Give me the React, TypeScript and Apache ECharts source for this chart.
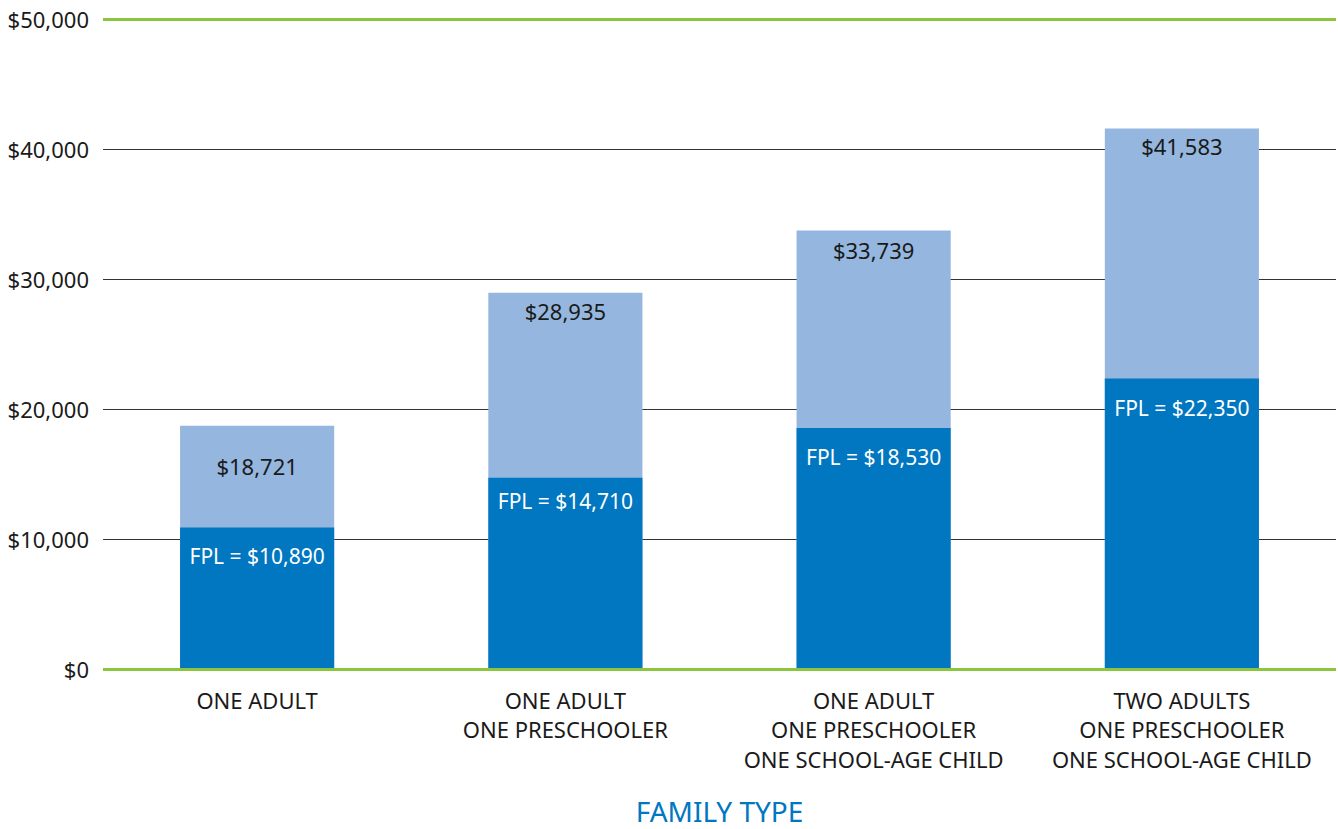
import React, { useEffect, useRef } from "react";
import * as echarts from "echarts";

const categories = [
  "ONE ADULT",
  "ONE ADULT\nONE PRESCHOOLER",
  "ONE ADULT\nONE PRESCHOOLER\nONE SCHOOL-AGE CHILD",
  "TWO ADULTS\nONE PRESCHOOLER\nONE SCHOOL-AGE CHILD",
];
const totalValues = [18721, 28935, 33739, 41583];
const fplValues = [10890, 14710, 18530, 22350];
const totalLabelDist = [29, 7, 9, 7];
const fplLabelDist = [18, 13, 18, 19];
const yTicks = [0, 10000, 20000, 30000, 40000, 50000];

const FONT = "'Noto Sans', 'Open Sans', sans-serif";
const fmt = (v: number) => "$" + v.toLocaleString("en-US");

export default function App() {
  const ref = useRef<HTMLDivElement>(null);
  useEffect(() => {
    if (!ref.current) return;
    const chart = echarts.init(ref.current, null, { renderer: "svg" });
    chart.setOption({
      animation: false,
      textStyle: { fontFamily: FONT },
      grid: {
        left: 103,
        right: 2,
        top: 19,
        bottom: 160,
        containLabel: false,
        outerBoundsMode: "none",
      },
      xAxis: {
        type: "category",
        data: categories,
        axisLine: { show: false },
        axisTick: { show: false },
        axisLabel: {
          interval: 0,
          hideOverlap: false,
          color: "#1a1a1a",
          fontSize: 22,
          lineHeight: 29.5,
          margin: 16,
          fontFamily: FONT,
        },
        name: "FAMILY TYPE",
        nameLocation: "middle",
        nameGap: 128,
        nameTextStyle: { color: "#0077c0", fontSize: 28, lineHeight: 28, fontFamily: FONT },
      },
      yAxis: {
        type: "value",
        min: 0,
        max: 50000,
        interval: 10000,
        axisLine: { show: false },
        axisTick: { show: false },
        axisLabel: {
          color: "#1a1a1a",
          fontSize: 22,
          margin: 14,
          fontFamily: FONT,
          formatter: (v: number) => fmt(v),
        },
        splitLine: { lineStyle: { color: "#333", width: 1 } },
      },
      series: [
        {
          type: "bar",
          data: totalValues.map((v, i) => ({
            value: v,
            label: { distance: totalLabelDist[i] },
          })),
          barWidth: "50%",
          barGap: "-100%",
          itemStyle: { color: "#95b7df" },
          label: {
            show: true,
            position: "insideTop",
            color: "#1a1a1a",
            fontSize: 22,
            fontFamily: FONT,
            formatter: (p: any) => fmt(p.value),
          },
          markLine: {
            silent: true,
            symbol: "none",
            label: { show: false },
            lineStyle: { color: "#8cc63f", width: 3, type: "solid" },
            data: [{ yAxis: yTicks[0] }, { yAxis: yTicks[yTicks.length - 1] }],
          },
          z: 2,
        },
        {
          type: "bar",
          data: fplValues.map((v, i) => ({
            value: v,
            label: { distance: fplLabelDist[i] },
          })),
          barWidth: "50%",
          itemStyle: { color: "#0077c0" },
          label: {
            show: true,
            position: "insideTop",
            color: "#fff",
            fontSize: 21,
            fontFamily: FONT,
            formatter: (p: any) => "FPL = " + fmt(p.value),
          },
          z: 3,
        },
      ],
    });
    return () => chart.dispose();
  }, []);
  return (
    <div
      ref={ref}
      style={{ position: "fixed", left: 0, top: 0, width: 1338, height: 829, background: "#fff" }}
    />
  );
}
